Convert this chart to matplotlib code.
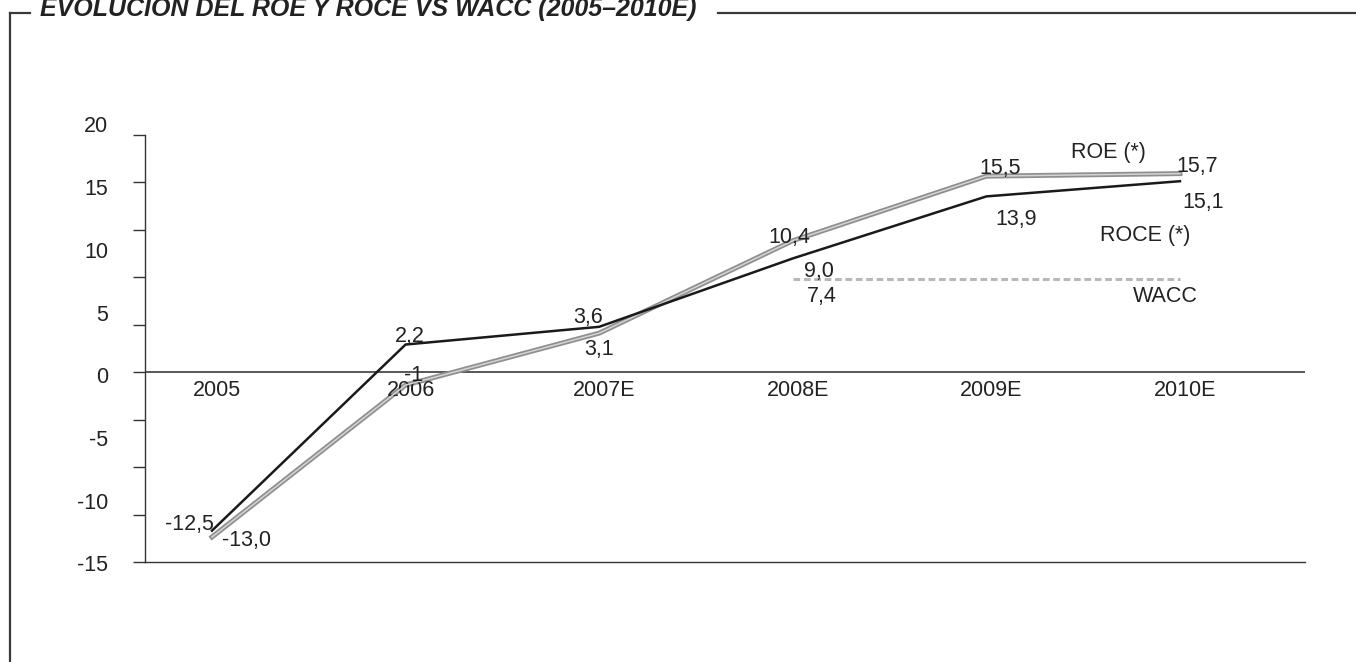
import numpy as np
import matplotlib.pyplot as plt
from matplotlib.lines import Line2D

plt.rcParams['font.family'] = ['Liberation Sans', 'DejaVu Sans']

# datos del gráfico
years = ['2005', '2006', '2007E', '2008E', '2009E', '2010E']
roe = [-13.0, -1.0, 3.1, 10.4, 15.5, 15.7]
roce = [-12.5, 2.2, 3.6, 9.0, 13.9, 15.1]
wacc_years = ['2008E', '2009E', '2010E']
wacc = [7.4, 7.4, 7.4]
ytick_labels = ['20', '15', '10', '5', '0', '-5', '-10', '-15']

roe_lbl = ['-13,0', '-1', '3,1', '10,4', '15,5', '15,7']
roce_lbl = ['-12,5', '2,2', '3,6', '9,0', '13,9', '15,1']

# desplazamientos de las etiquetas (pixeles)
roe_off = [(35, -4), (8, 10), (0, -16), (-3, 3), (14, 8), (17, 7)]
roce_off = [(-23, 6), (4, 8), (-11, 9), (26, -13), (30, -23), (23, -21)]

TXT = '#222222'
FS = 15.5

W, H = 1356, 662
fig = plt.figure(figsize=(W / 100, H / 100), dpi=100)
fig.patch.set_facecolor('white')

# marco exterior con el título
def px(x, y):
    return x / W, 1 - y / H

frame_kw = dict(color='#3a3a3a', lw=1.6, transform=fig.transFigure)
fig.add_artist(Line2D([px(10, 0)[0], px(10, 0)[0]], [px(0, 13)[1], 0], **frame_kw))
fig.add_artist(Line2D([px(10, 0)[0], px(30, 0)[0]], [px(0, 13)[1]] * 2, **frame_kw))
fig.add_artist(Line2D([px(718, 0)[0], 1], [px(0, 13)[1]] * 2, **frame_kw))
fig.text(px(40, 0)[0], px(0, 16)[1], 'EVOLUCIÓN DEL ROE Y ROCE VS WACC (2005–2010E)',
         fontsize=18, fontweight='bold', fontstyle='italic', color=TXT,
         ha='left', va='baseline')

ax = fig.add_axes([145 / W, (H - 562.3) / H, 1160 / W, 427.3 / H])
x = np.arange(len(years))
xw = np.array([years.index(y) for y in wacc_years])

ax.set_xlim(-0.346, 5.646)
ax.set_ylim(-15, 18.75)

for s in ['top', 'right']:
    ax.spines[s].set_visible(False)
ax.spines['left'].set_color('#333333')
ax.spines['bottom'].set_color('#333333')
ax.spines['left'].set_linewidth(1.0)
ax.spines['bottom'].set_linewidth(1.0)
ax.set_xticks([])
ax.set_yticks(np.arange(-15, 18.76, 3.75))
ax.tick_params(axis='y', direction='out', length=8.5, width=1.0, color='#333333', labelleft=False)

ax.axhline(0, color='#2a2a2a', lw=1.1, zorder=1)

ax.plot(xw, wacc, color='#b8b8b8', lw=2.2, ls=(0, (2.2, 1.2)), zorder=2)
ax.plot(x, roe, color='#8f8f8f', lw=3.6, solid_joinstyle='miter', zorder=3)
ax.plot(x, roe, color='#d4d4d4', lw=1.1, solid_joinstyle='miter', zorder=4)
ax.plot(x, roce, color='#1a1a1a', lw=1.8, solid_joinstyle='miter', zorder=5)

# etiquetas del eje y (repartidas como en el original)
for i, t in enumerate(ytick_labels):
    yf = (562.3 - (127 + i * 62.7)) / 427.3
    ax.text(-0.0319, yf, t, transform=ax.transAxes, ha='right', va='center',
            fontsize=FS, color=TXT)

# etiquetas de categorías
for xi, t in zip(x, years):
    ax.annotate(t, (xi, 0), xytext=(5, -18), textcoords='offset pixels',
                ha='center', va='center', fontsize=FS, color=TXT)

for xi, v, t, o in zip(x, roe, roe_lbl, roe_off):
    ax.annotate(t, (xi, v), xytext=o, textcoords='offset pixels',
                ha='center', va='center', fontsize=FS, color=TXT, zorder=6)
for xi, v, t, o in zip(x, roce, roce_lbl, roce_off):
    ax.annotate(t, (xi, v), xytext=o, textcoords='offset pixels',
                ha='center', va='center', fontsize=FS, color=TXT, zorder=6)

ax.annotate('7,4', (xw[0], wacc[0]), xytext=(29, -18), textcoords='offset pixels',
            ha='center', va='center', fontsize=FS, color=TXT)

# nombres de las series
ax.annotate('ROE (*)', (x[-1], roe[-1]), xytext=(-72, 21), textcoords='offset pixels',
            ha='center', va='center', fontsize=FS, color=TXT)
ax.annotate('ROCE (*)', (x[-1], roce[-1]), xytext=(-35, -54), textcoords='offset pixels',
            ha='center', va='center', fontsize=FS, color=TXT)
ax.annotate('WACC', (xw[-1], wacc[-1]), xytext=(-15, -18), textcoords='offset pixels',
            ha='center', va='center', fontsize=FS, color=TXT)

fig.savefig('out.png', dpi=100, facecolor='white')
